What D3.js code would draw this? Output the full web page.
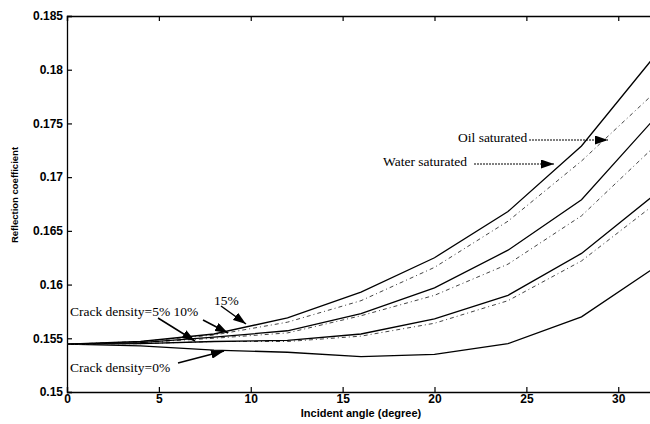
<!DOCTYPE html>
<html>
<head>
<meta charset="utf-8">
<script src="https://cdn.jsdelivr.net/npm/d3@7"></script>
<style>
  body { margin: 0; background: #fff; }
  svg { display: block; overflow: hidden; }
  .tick text { font-family: "Liberation Sans", Arial, sans-serif; font-weight: bold; font-size: 12px; }
  .note { font-family: "Liberation Serif", "Times New Roman", serif; font-size: 13.5px; fill: #000; }
</style>
</head>
<body>
<svg id="chart"></svg>
<script>
var svgWidth = 650, svgHeight = 424;
var margin = { top: 16, right: -5, bottom: 32, left: 67 },
    width = svgWidth - margin.left - margin.right,
    height = svgHeight - margin.top - margin.bottom;

// incident angle (degree)
var angles = [0, 4, 8, 12, 16, 20, 24, 28, 32];
// reflection coefficients
var water0  = [0.15445, 0.1543, 0.1539, 0.1537, 0.1533, 0.1535, 0.1545, 0.1570, 0.1616];
var water5  = [0.15445, 0.1545, 0.1547, 0.1548, 0.1554, 0.1568, 0.1590, 0.1629, 0.1684];
var oil5    = [0.15445, 0.1545, 0.1547, 0.1547, 0.1552, 0.1564, 0.1585, 0.1622, 0.1675];
var water10 = [0.15445, 0.1546, 0.1551, 0.1557, 0.1573, 0.1597, 0.1632, 0.1679, 0.1755];
var oil10   = [0.15445, 0.1546, 0.1550, 0.1555, 0.1571, 0.1590, 0.1619, 0.1664, 0.1729];
var water15 = [0.15445, 0.1547, 0.1554, 0.1569, 0.1593, 0.1625, 0.1668, 0.1729, 0.1813];
var oil15   = [0.15445, 0.1547, 0.1553, 0.1565, 0.1585, 0.1616, 0.1659, 0.1715, 0.1779];

var xTicks = [0, 5, 10, 15, 20, 25, 30];
var yTicks = [0.15, 0.155, 0.16, 0.165, 0.17, 0.175, 0.18, 0.185];
var yTickLabels = ["0.15", "0.155", "0.16", "0.165", "0.17", "0.175", "0.18", "0.185"];

var series = [
  { values: water0, oil: false },
  { values: oil5, oil: true },
  { values: water5, oil: false },
  { values: oil10, oil: true },
  { values: water10, oil: false },
  { values: oil15, oil: true },
  { values: water15, oil: false }
];

var svg = d3.select("#chart").attr("width", svgWidth).attr("height", svgHeight);
var x = d3.scaleLinear().domain([0, 32]).range([0, width]);
var y = d3.scaleLinear().domain([0.15, 0.185]).range([height, 0]);
var g = svg.append("g").attr("transform", `translate(${margin.left},${margin.top})`);

// axes, MATLAB style ticks pointing inward
g.append("g").attr("transform", `translate(0,${height})`)
  .call(d3.axisBottom(x).tickValues(xTicks).tickSize(-5).tickPadding(2).tickFormat(d3.format("d")));
g.append("g")
  .call(d3.axisTop(x).tickValues(xTicks).tickSize(-5).tickFormat(""));
g.append("g")
  .call(d3.axisLeft(y).tickValues(yTicks).tickSize(-5).tickPadding(4).tickFormat((d, i) => yTickLabels[i]));
g.append("g").attr("transform", `translate(${width},0)`)
  .call(d3.axisRight(y).tickValues(yTicks).tickSize(-5).tickFormat(""));
g.selectAll(".domain").attr("stroke", "#000").attr("stroke-width", 1.3);
g.selectAll(".tick line").attr("stroke", "#000").attr("stroke-width", 1.2);

var line = d3.line().x((d, i) => x(angles[i])).y(d => y(d));
g.selectAll(".curve").data(series).enter().append("path")
  .attr("class", "curve")
  .attr("d", d => line(d.values))
  .attr("fill", "none")
  .attr("stroke", d => d.oil ? "#444" : "#000")
  .attr("stroke-width", d => d.oil ? 1 : 1.3)
  .attr("stroke-dasharray", d => d.oil ? "4,3,1,3" : null);

// axis titles
svg.append("text")
  .attr("x", margin.left + x(16)).attr("y", 417)
  .attr("text-anchor", "middle")
  .style("font-family", "Liberation Sans, Arial, sans-serif").style("font-weight", "bold").style("font-size", "11px")
  .text("Incident angle (degree)");
svg.append("text")
  .attr("transform", "translate(18,195) rotate(-90)")
  .attr("text-anchor", "middle")
  .style("font-family", "Liberation Sans, Arial, sans-serif").style("font-weight", "bold").style("font-size", "9.5px")
  .text("Reflection coefficient");

// annotations
svg.append("defs").append("marker")
  .attr("id", "arrow").attr("viewBox", "0 0 13 9")
  .attr("refX", 13).attr("refY", 4.5)
  .attr("markerWidth", 13).attr("markerHeight", 9)
  .attr("markerUnits", "userSpaceOnUse")
  .attr("orient", "auto")
  .append("path").attr("d", "M0,0L13,4.5L0,9Z").attr("fill", "#000");

var notes = [
  { text: "Oil saturated", tx: 458, ty: 142, x1: 529, y1: 140, x2: 608, y2: 140, dotted: true },
  { text: "Water saturated", tx: 383, ty: 166, x1: 474, y1: 164, x2: 554, y2: 164, dotted: true },
  { text: "Crack density=5% 10%", tx: 70, ty: 316, x1: 158, y1: 318, x2: 195, y2: 341, dotted: false },
  { text: "", tx: 0, ty: 0, x1: 203, y1: 320, x2: 228, y2: 333, dotted: false },
  { text: "15%", tx: 214, ty: 305, x1: 221, y1: 306, x2: 246, y2: 324, dotted: false },
  { text: "Crack density=0%", tx: 70, ty: 372, x1: 178, y1: 363, x2: 224, y2: 351, dotted: false }
];
notes.forEach(function (n) {
  if (n.text) svg.append("text").attr("class", "note").attr("x", n.tx).attr("y", n.ty).text(n.text);
  svg.append("line")
    .attr("x1", n.x1).attr("y1", n.y1).attr("x2", n.x2).attr("y2", n.y2)
    .attr("stroke", "#000").attr("stroke-width", n.dotted ? 1 : 1.5)
    .attr("stroke-dasharray", n.dotted ? "2,1" : null)
    .attr("marker-end", "url(#arrow)");
});
</script>
</body>
</html>
